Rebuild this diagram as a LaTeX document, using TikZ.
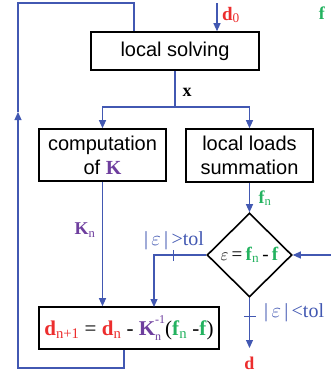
\documentclass[tikz,border=0pt]{standalone}
\usepackage{fontspec}
\setmainfont{Liberation Serif}
\setsansfont{Liberation Sans}
\usetikzlibrary{arrows.meta,shapes.geometric}
\definecolor{lblue}{RGB}{66,88,178}
\definecolor{lred}{RGB}{236,45,45}
\definecolor{lgreen}{RGB}{35,178,95}
\definecolor{lpurple}{RGB}{110,62,158}
\newcommand{\bsub}[2]{\textbf{#1}\textsubscript{#2}}
\newcommand{\smallidx}{\fontsize{12}{12}\selectfont}
\tikzset{
  box/.style={draw=black,line width=1.6pt,rectangle,inner sep=0pt,align=center,
    font=\sffamily\fontsize{20}{24}\selectfont},
  blueline/.style={draw=lblue,line width=1.1pt},
  arr/.style={blueline,-{Triangle[length=8pt,width=7pt]}},
  lab/.style={inner sep=0pt,font=\fontsize{18}{20}\selectfont},
  cond/.style={inner sep=0pt,text=lblue,font=\fontsize{20}{22}\selectfont},
  tick/.style={draw=lblue,line width=1pt}
}
\begin{document}
\begin{tikzpicture}[x=1pt,y=-1pt]
\useasboundingbox (0,0) rectangle (331,378);
% nodes
\node[box,minimum width=168pt,minimum height=38pt] (ls) at (175,51) {local solving};
\node[box,minimum width=127pt,minimum height=52pt] (ck) at (102.5,155) {computation\\of {\rmfamily\bfseries\color{lpurple}K}};
\node[box,minimum width=127pt,minimum height=53pt] (ll) at (249.5,155.5) {local loads\\summation};
\node[diamond,draw=black,line width=1.6pt,minimum width=85pt,minimum height=84pt,inner sep=0pt,
  font=\fontsize{19}{21}\selectfont] (dm) at (249.5,255)
  {$\varepsilon$\,=\,{\color{lgreen}\bsub{f}{n}}\,-\,{\color{lgreen}\textbf{f}}};
\node[box,minimum width=180pt,minimum height=42pt,font=\rmfamily\fontsize{21}{23}\selectfont] (eq) at (129,328)
  {{\color{lred}\bsub{d}{n+1}} = {\color{lred}\bsub{d}{n}} - {\color{lpurple}\textbf{K}\rlap{\raisebox{-0.45ex}{\smallidx n}}\raisebox{1.25ex}{\smallidx -1}}({\color{lgreen}\bsub{f}{n}} -{\color{lgreen}\textbf{f}})};
% labels
\node[lab,text=lred,font=\fontsize{19}{21}\selectfont] (ld0) at (231,15) {\bsub{d}{0}};
\node[lab,text=lgreen] (lf) at (322,13) {\textbf{f}};
\node[lab] (lx) at (187,92) {\textbf{x}};
\node[lab,text=lpurple] (lkn) at (85,230) {\bsub{K}{n}};
\node[lab,text=lgreen] (lfn) at (265,198) {\bsub{f}{n}};
\node[lab,text=lred] (ld) at (249.5,363) {\textbf{d}};
\node[cond] (lgt) at (174,241) {|\,$\varepsilon$\,|\,>tol};
\node[cond,anchor=west] (llt) at (264,313) {|\,$\varepsilon$\,|\,<tol};
% coordinates
\coordinate (d0s) at (217,3);
\coordinate (xs) at (175,107);
\coordinate (gt) at (154,307);
\coordinate (fin) at (331,255);
\coordinate (dout) at (249.5,348);
\coordinate (fb1) at (124,368);
\coordinate (fb2) at (18,368);
\coordinate (fbm) at (18,112);
\coordinate (fb3) at (18,3);
\coordinate (fb4) at (134,3);
% connectors
\draw[arr] (d0s) -- (d0s |- ls.north);
\draw[blueline] (ls.south) -- (xs);
\draw[arr] (xs) -| (ck.north);
\draw[arr] (xs) -| (ll.north);
\draw[arr] (ck.south) -- (ck.south |- eq.north);
\draw[arr] (ll.south) -- (dm.north);
\draw[arr] (dm.west) -| (gt);
\draw[arr] (fin) -- (dm.east);
\draw[arr] (dm.south) -- (dout);
\draw[arr] (fb1 |- eq.south) -- (fb1) -- (fb2) -- (fbm);
\draw[blueline] (fbm) -- (fb3) -- (fb4) -- (fb4 |- ls.north);
% ticks
\draw[tick] (173,250) -- (173,261);
\draw[tick] (244,316) -- (256,316);
\end{tikzpicture}
\end{document}
